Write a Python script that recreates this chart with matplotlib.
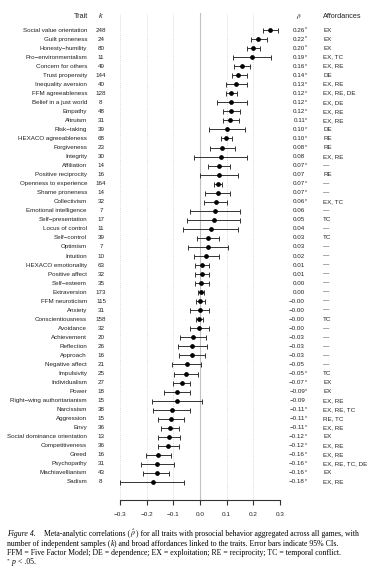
import numpy as np
import matplotlib
matplotlib.use("Agg")
import matplotlib.pyplot as plt
from matplotlib import transforms

plt.rcParams["font.family"] = ["Liberation Sans", "DejaVu Sans"]
plt.rcParams["mathtext.fontset"] = "stix"

M = "\u2212"

traits = [
    "Social value orientation", "Guilt proneness", f"Honesty{M}humility",
    f"Pro{M}environmentalism", "Concern for others", "Trust propensity",
    "Inequality aversion", "FFM agreeableness", "Belief in a just world",
    "Empathy", "Altruism", f"Risk{M}taking", "HEXACO agreeableness",
    "Forgiveness", "Integrity", "Affiliation", "Positive reciprocity",
    "Openness to experience", "Shame proneness", "Collectivism",
    "Emotional intelligence", f"Self{M}presentation", "Locus of control",
    f"Self{M}control", "Optimism", "Intuition", "HEXACO emotionality",
    "Positive affect", f"Self{M}esteem", "Extraversion", "FFM neuroticism",
    "Anxiety", "Conscientiousness", "Avoidance", "Achievement", "Reflection",
    "Approach", "Negative affect", "Impulsivity", "Individualism", "Power",
    f"Right{M}wing authoritarianism", "Narcissism", "Aggression", "Envy",
    "Social dominance orientation", "Competitiveness", "Greed", "Psychopathy",
    "Machiavellianism", "Sadism",
]

k = [248, 24, 80, 11, 49, 144, 40, 128, 8, 48, 31, 39, 68, 23, 30, 14, 16,
     164, 14, 32, 7, 17, 11, 39, 7, 10, 63, 32, 35, 173, 115, 31, 158, 32,
     20, 26, 16, 21, 25, 27, 18, 15, 38, 15, 36, 13, 36, 16, 31, 43, 8]

rho = [0.262, 0.219, 0.200, 0.194, 0.159, 0.143, 0.134, 0.118, 0.117, 0.117,
       0.114, 0.100, 0.098, 0.082, 0.078, 0.071, 0.071, 0.069, 0.068, 0.060,
       0.058, 0.051, 0.041, 0.030, 0.029, 0.024, 0.007, 0.006, 0.004, 0.003,
       -0.001, -0.001, -0.003, -0.002, -0.028, -0.029, -0.030, -0.049,
       -0.054, -0.069, -0.086, -0.087, -0.106, -0.110, -0.113, -0.116,
       -0.120, -0.156, -0.161, -0.163, -0.178]

ci_low = [0.238, 0.190, 0.175, 0.125, 0.129, 0.119, 0.096, 0.098, 0.063,
          0.085, 0.085, 0.035, 0.078, 0.038, -0.021, 0.031, 0.000, 0.054,
          0.020, 0.016, -0.036, -0.049, -0.063, -0.013, -0.046, -0.021,
          -0.020, -0.020, -0.020, -0.008, -0.016, -0.036, -0.015, -0.039,
          -0.076, -0.083, -0.079, -0.104, -0.099, -0.103, -0.134, -0.181,
          -0.175, -0.159, -0.146, -0.156, -0.159, -0.204, -0.221, -0.213,
          -0.300]

ci_high = [0.291, 0.250, 0.225, 0.265, 0.188, 0.175, 0.178, 0.138, 0.175,
           0.150, 0.148, 0.169, 0.119, 0.130, 0.178, 0.113, 0.141, 0.083,
           0.114, 0.101, 0.151, 0.150, 0.144, 0.073, 0.104, 0.071, 0.033,
           0.034, 0.034, 0.016, 0.020, 0.035, 0.011, 0.035, 0.024, 0.028,
           0.020, 0.005, -0.008, -0.038, -0.036, 0.009, -0.036, -0.060,
           -0.078, -0.074, -0.080, -0.108, -0.099, -0.115, -0.059]

signif = [1, 1, 1, 1, 1, 1, 1, 1, 1, 1, 1, 1, 1, 1, 0, 1, 0, 1, 1, 1,
          0, 0, 0, 0, 0, 0, 0, 0, 0, 0, 0, 0, 0, 0, 0, 0, 0, 0, 1, 1,
          1, 0, 1, 1, 1, 1, 1, 1, 1, 1, 1]

NONE = "\u2014"
affordances = [
    "EX", "EX", "EX", "EX, TC", "EX, RE", "DE", "EX, RE", "EX, RE, DE",
    "EX, DE", "EX, RE", "EX, RE", "DE", "RE", "RE", "EX, RE", NONE, "RE",
    NONE, NONE, "EX, TC", NONE, "TC", NONE, "TC", NONE, NONE, NONE, NONE,
    NONE, NONE, NONE, NONE, "TC", NONE, NONE, NONE, NONE, NONE, "TC", "EX",
    "EX", "EX, RE", "EX, RE, TC", "RE, TC", "EX, RE", "EX", "EX, RE",
    "EX, RE", "EX, RE, TC, DE", "EX", "EX, RE",
]

xticks = [-0.3, -0.2, -0.1, 0.0, 0.1, 0.2, 0.3]

# caption pieces: (text, style)
caption = [
    [("Figure 4.", "italic"), ("    Meta-analytic correlations (", "normal"),
     (r"$\hat{\rho}$", "normal"),
     (") for all traits with prosocial behavior aggregated across all games, with", "normal")],
    [("number of independent samples (", "normal"), ("k", "italic"),
     (") and broad affordances linked to the traits. Error bars indicate 95% CIs.", "normal")],
    [("FFM = Five Factor Model; DE = dependence; EX = exploitation; RE = reciprocity; TC = temporal conflict.", "normal")],
    [("*", "sup"), (" ", "normal"), ("p", "italic"), (" < .05.", "normal")],
]

W, H = 375, 570
fig = plt.figure(figsize=(W / 100, H / 100), dpi=100)
fig.patch.set_facecolor("white")

# axes placed in pixel terms: x -0.3..0.3 -> 120..280 px, rows from 13 to 500 px
top_px, bot_px, row0_px, step_px = 13, 500, 30, 9.04
ax = fig.add_axes([120 / W, 1 - bot_px / H, 160 / W, (bot_px - top_px) / H])
ax.set_xlim(-0.3, 0.3)
ax.set_ylim((bot_px - row0_px) / step_px, (top_px - row0_px) / step_px)

y = np.arange(len(traits))
rho_a = np.array(rho)
xerr = [rho_a - np.array(ci_low), np.array(ci_high) - rho_a]

for t in xticks:
    if t == 0:
        ax.axvline(t, color="#c0c0c0", lw=0.8, zorder=0)
    else:
        ax.axvline(t, color="#cfcfcf", lw=0.6, ls=(0, (1, 1.5)), zorder=0)

ax.errorbar(rho_a, y, xerr=xerr, fmt="o", ms=2.4, color="black",
            ecolor="#333333", elinewidth=0.7, capsize=1.8, capthick=0.7)

for s in ["top", "left", "right"]:
    ax.spines[s].set_visible(False)
ax.spines["bottom"].set_color("#333333")
ax.spines["bottom"].set_linewidth(0.8)
ax.set_yticks([])
ax.set_xticks(xticks)
ax.set_xticklabels([f"{t:.1f}".replace("-", M) for t in xticks])
ax.tick_params(axis="x", length=3.6, width=0.8, color="#333333", pad=5,
               labelsize=4.6, labelcolor="#222222")

# text columns: figure x, data y
tr = transforms.blended_transform_factory(fig.transFigure, ax.transData)
fs = 4.5
col = "#222222"
hy = (17 - row0_px) / step_px
ax.text(88 / W, hy, "Trait", transform=tr, ha="right", va="center",
        fontsize=5.2, color=col)
ax.text(101 / W, hy, "k", transform=tr, ha="center", va="center",
        fontsize=5.2, color=col, style="italic")
ax.text(299 / W, hy, r"$\hat{\rho}$", transform=tr, ha="center",
        va="center", fontsize=5.2, color=col)
ax.text(323 / W, hy, "Affordances", transform=tr, ha="left", va="center",
        fontsize=5.2, color=col)

for i, name in enumerate(traits):
    ax.text(87 / W, i, name, transform=tr, ha="right", va="center",
            fontsize=fs, color=col)
    ax.text(101 / W, i, str(k[i]), transform=tr, ha="center", va="center",
            fontsize=fs, color=col)
    lab = f"{rho[i]:.2f}".replace("-", M)
    ax.text(305 / W, i, lab, transform=tr, ha="right", va="center",
            fontsize=fs, color=col)
    if signif[i]:
        ax.text(305.3 / W, i - 0.12, "*", transform=tr, ha="left",
                va="center", fontsize=3.8, color=col)
    ax.text(323 / W, i, affordances[i], transform=tr, ha="left",
            va="center", fontsize=fs, color=col)

# caption, written piece by piece so italics stay plain text
renderer = fig.canvas.get_renderer()
cfs = 5.6
serif = ["Liberation Serif", "DejaVu Serif"]
for j, pieces in enumerate(caption):
    x = 7.0
    base = 536.5 + 9.1 * j
    for txt, kind in pieces:
        size, dy = cfs, 0
        style = "italic" if kind == "italic" else "normal"
        if kind == "sup":
            size, dy = cfs * 0.7, -2.5
        t = fig.text(x / W, 1 - (base + dy) / H, txt, ha="left",
                     va="baseline", fontsize=size, family=serif,
                     style=style, color="black")
        x = t.get_window_extent(renderer).x1

fig.savefig("out.png", dpi=100)
